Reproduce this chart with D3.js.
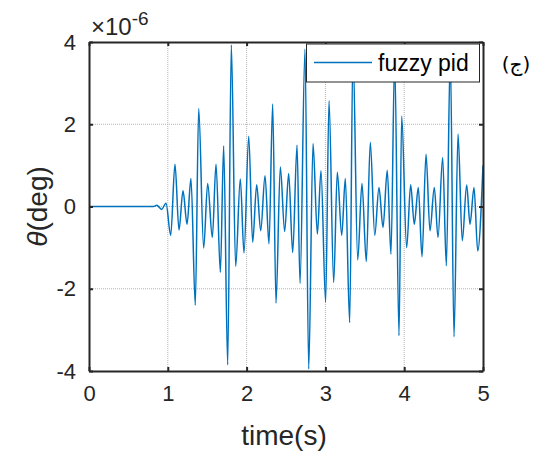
<!DOCTYPE html>
<html><head><meta charset="utf-8">
<script src="https://cdn.jsdelivr.net/npm/d3@7"></script>
<style>
html,body{margin:0;padding:0;background:#fff;}
svg{display:block;font-family:"Liberation Sans",Arial,sans-serif;}
</style></head>
<body>
<svg id="chart" width="534" height="453"></svg>
<script>
// Data (theta in units of 1e-6 deg)
const timeS = [0, 0.5, 0.82, 0.859, 0.922, 0.977, 1.037, 1.091, 1.142, 1.193, 1.244, 1.294, 1.349, 1.392, 1.455, 1.506, 1.565, 1.612, 1.667, 1.709, 1.760, 1.806, 1.861, 1.920, 1.967, 2.027, 2.077, 2.128, 2.179, 2.234, 2.284, 2.331, 2.373, 2.428, 2.483, 2.534, 2.585, 2.640, 2.678, 2.741, 2.788, 2.843, 2.898, 2.944, 3.003, 3.046, 3.105, 3.151, 3.207, 3.253, 3.308, 3.350, 3.410, 3.464, 3.519, 3.570, 3.626, 3.680, 3.731, 3.785, 3.832, 3.879, 3.934, 3.968, 4.031, 4.082, 4.128, 4.179, 4.226, 4.277, 4.327, 4.382, 4.429, 4.488, 4.535, 4.585, 4.632, 4.683, 4.737, 4.793, 4.835, 4.886, 4.933, 5.0];
const thetaE6 = [0, 0, 0, 0.03, -0.07, 0.08, -0.70, 1.03, -0.57, 0.38, -0.43, 0.68, -2.40, 2.38, -1.01, 0.56, -0.75, 1.03, -1.60, 1.47, -3.85, 3.93, -1.46, 0.67, -1.13, 1.71, -0.87, 0.53, -0.59, 0.75, -0.91, 2.49, -2.35, 0.96, -0.61, 0.80, -1.12, 1.49, -1.87, 3.83, -3.95, 1.53, -0.67, 0.87, -2.33, 2.57, -1.85, 0.83, -0.70, 0.68, -2.82, 3.8, -1.30, 0.56, -1.34, 1.56, -0.70, 0.46, -0.51, 0.88, -1.16, 3.6, -3.14, 2.20, -1.00, 0.53, -0.43, 0.46, -1.22, 1.27, -0.59, 0.46, -0.75, 1.19, -1.44, 3.7, -3.17, 1.76, -0.83, 0.52, -0.43, 0.46, -1.08, 1.0];
const xTicks = [0, 1, 2, 3, 4, 5];
const yTicks = [-4, -2, 0, 2, 4];
const seriesName = "fuzzy pid";
const xLabel = "time(s)";
const exponentLabel = "-6";
const panelLabel = "(ج)";

const svg = d3.select("#chart");
const L = 89, R = 483, T = 42, B = 371;
const x = d3.scaleLinear().domain([0, 5]).range([L, R]);
const y = d3.scaleLinear().domain([-4, 4]).range([B, T]);
const axisColor = "#262626";

// grid
const grid = svg.append("g");
grid.selectAll("line.gx").data(xTicks.filter(d => d > 0 && d < 5)).enter().append("line")
  .attr("x1", d => x(d)).attr("x2", d => x(d)).attr("y1", T).attr("y2", B)
  .attr("stroke", "#b4b4b4").attr("stroke-width", 1).attr("stroke-dasharray", "1,1");
grid.selectAll("line.gy").data(yTicks.filter(d => d > -4 && d < 4)).enter().append("line")
  .attr("y1", d => y(d)).attr("y2", d => y(d)).attr("x1", L).attr("x2", R)
  .attr("stroke", "#b4b4b4").attr("stroke-width", 1).attr("stroke-dasharray", "1,1");

// line
const data = timeS.map((t, i) => [t, thetaE6[i]]);
svg.append("path").datum(data)
  .attr("fill", "none").attr("stroke", "#0072BD").attr("stroke-width", 1.5)
  .attr("d", d3.line().x(d => x(d[0])).y(d => y(d[1])).curve(d3.curveMonotoneX));

// axes
const tickLen = 4;
const fmt = d => d < 0 ? "-" + Math.abs(d) : String(d);
const xAxisB = d3.axisBottom(x).tickValues(xTicks).tickSizeInner(-tickLen).tickSizeOuter(0).tickPadding(14).tickFormat(fmt);
const xAxisT = d3.axisTop(x).tickValues(xTicks).tickSizeInner(-tickLen).tickSizeOuter(0).tickFormat("");
const yAxisL = d3.axisLeft(y).tickValues(yTicks).tickSizeInner(-tickLen).tickSizeOuter(0).tickPadding(13).tickFormat(fmt);
const yAxisR = d3.axisRight(y).tickValues(yTicks).tickSizeInner(-tickLen).tickSizeOuter(0).tickFormat("");

function style(g) {
  g.select(".domain").attr("stroke", axisColor).attr("stroke-width", 2);
  g.selectAll(".tick line").attr("stroke", axisColor).attr("stroke-width", 2);
  g.selectAll(".tick text").attr("fill", axisColor).attr("font-size", 22).attr("font-family", "Liberation Sans, Arial, sans-serif");
}
svg.append("g").attr("transform", `translate(0,${B})`).call(xAxisB).call(style);
svg.append("g").attr("transform", `translate(0,${T})`).call(xAxisT).call(style);
svg.append("g").attr("transform", `translate(${L},0)`).call(yAxisL).call(style);
svg.append("g").attr("transform", `translate(${R},0)`).call(yAxisR).call(style);

// exponent label
const ex = svg.append("text").attr("x", 91).attr("y", 35).attr("fill", axisColor).attr("font-size", 24);
ex.append("tspan").text("×10");
ex.append("tspan").attr("dy", -10).attr("font-size", 19).text(exponentLabel);

// axis labels
svg.append("text").attr("x", (L + R) / 2 - 2).attr("y", 445).attr("text-anchor", "middle")
  .attr("fill", axisColor).attr("font-size", 28).text(xLabel);
const yl = svg.append("text").attr("transform", `translate(47,${(T + B) / 2}) rotate(-90)`)
  .attr("text-anchor", "middle").attr("fill", axisColor).attr("font-size", 28);
yl.append("tspan").attr("font-style", "italic").text("θ");
yl.append("tspan").text("(deg)");

// legend
const lg = svg.append("g");
lg.append("rect").attr("x", 306.5).attr("y", 44).attr("width", 173).attr("height", 38)
  .attr("fill", "#fff").attr("stroke", axisColor).attr("stroke-width", 1);
lg.append("line").attr("x1", 314).attr("x2", 372).attr("y1", 62.5).attr("y2", 62.5)
  .attr("stroke", "#0072BD").attr("stroke-width", 1.5);
lg.append("text").attr("x", 378).attr("y", 71).attr("fill", "#000").attr("font-size", 23).text(seriesName);

// panel label
svg.append("text").attr("x", 516).attr("y", 71).attr("text-anchor", "middle")
  .attr("font-family", "DejaVu Sans").attr("font-size", 20).attr("fill", "#000").text(panelLabel);
</script>
</body></html>
